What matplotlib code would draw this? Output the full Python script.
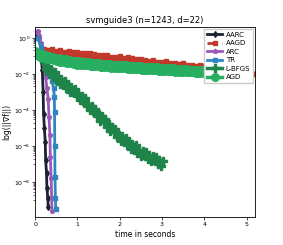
import matplotlib
matplotlib.use("Agg")
import matplotlib.pyplot as plt
from matplotlib.ticker import FixedLocator, NullFormatter
import numpy as np

# log10 of ||grad f||, against time in seconds
aarc_t = [0.04, 0.07, 0.10, 0.13, 0.15, 0.17, 0.19, 0.20, 0.22, 0.24, 0.25, 0.27, 0.28, 0.30, 0.31]
aarc_v = [0.05, 0.2, 0.0, -0.6, -1.2, -1.8, -3.0, -4.2, -5.0, -5.8, -6.8, -7.5, -8.3, -8.9, -9.4]

aagd_t = [0.20, 0.25, 0.30, 0.35, 0.40, 0.45, 0.50, 0.55, 0.60, 0.65,
          0.70, 0.75, 0.80, 0.85, 0.90, 0.95, 1.00, 1.05, 1.10, 1.15,
          1.20, 1.25, 1.30, 1.35, 1.40, 1.45, 1.50, 1.55, 1.60, 1.65,
          1.70, 1.75, 1.80, 1.85, 1.90, 1.95, 2.00, 2.05, 2.10, 2.15,
          2.20, 2.25, 2.30, 2.35, 2.40, 2.45, 2.50, 2.55, 2.60, 2.65,
          2.70, 2.75, 2.80, 2.85, 2.90, 2.95, 3.00, 3.05, 3.10, 3.15,
          3.20, 3.25, 3.30, 3.35, 3.40, 3.45, 3.50, 3.55, 3.60, 3.65,
          3.70, 3.75, 3.80, 3.85, 3.90, 3.95, 4.00, 4.05, 4.10, 4.15,
          4.20, 4.25, 4.30, 4.35, 4.40, 4.45, 4.50, 4.55, 4.60, 4.65,
          4.70, 4.75, 4.80, 4.85, 4.90, 4.95, 5.00, 5.05, 5.10, 5.15, 5.20]
aagd_v = [-0.62, -0.80, -0.68, -0.78, -0.60, -0.82, -0.72, -0.85, -0.70, -0.88,
          -0.76, -0.86, -0.74, -0.90, -0.80, -0.92, -0.78, -0.95, -0.84, -0.96,
          -0.86, -0.98, -0.82, -1.02, -0.92, -1.05, -0.95, -1.08, -0.98, -1.10,
          -0.96, -1.12, -1.04, -1.15, -1.06, -1.18, -1.02, -1.20, -1.12, -1.22,
          -1.08, -1.24, -1.14, -1.28, -1.18, -1.30, -1.20, -1.33, -1.22, -1.36,
          -1.26, -1.38, -1.22, -1.40, -1.32, -1.43, -1.35, -1.46, -1.30, -1.48,
          -1.38, -1.50, -1.42, -1.53, -1.45, -1.56, -1.40, -1.58, -1.50, -1.60,
          -1.52, -1.62, -1.55, -1.64, -1.50, -1.66, -1.58, -1.68, -1.60, -1.70,
          -1.62, -1.72, -1.66, -1.75, -1.68, -1.78, -1.70, -1.80, -1.74, -1.83,
          -1.76, -1.86, -1.80, -1.88, -1.84, -1.92, -1.86, -1.95, -1.90, -1.98, -2.00]

arc_t = [0.03, 0.06, 0.10, 0.14, 0.18, 0.22, 0.25, 0.28, 0.31, 0.33, 0.35, 0.36, 0.38, 0.40]
arc_v = [0.3, 0.4, 0.1, -0.3, -0.9, -1.5, -2.2, -2.8, -3.4, -4.4, -5.4, -6.6, -7.8, -9.6]

tr_t = [0.05, 0.15, 0.25, 0.33, 0.40, 0.44, 0.455, 0.46, 0.465, 0.47, 0.48, 0.49]
tr_v = [0.0, -0.5, -1.1, -1.7, -2.4, -2.8, -3.3, -4.1, -6.0, -7.7, -8.9, -9.5]

lbfgs_t = [0.22, 0.26, 0.30, 0.34, 0.38, 0.42, 0.46, 0.50, 0.54, 0.58,
           0.62, 0.66, 0.70, 0.74, 0.78, 0.82, 0.86, 0.90, 0.94, 0.98,
           1.02, 1.06, 1.10, 1.14, 1.18, 1.22, 1.26, 1.30, 1.34, 1.38,
           1.42, 1.46, 1.50, 1.54, 1.58, 1.62, 1.66, 1.70, 1.74, 1.78,
           1.82, 1.86, 1.90, 1.94, 1.98, 2.02, 2.06, 2.10, 2.14, 2.18,
           2.22, 2.26, 2.30, 2.34, 2.38, 2.42, 2.46, 2.50, 2.54, 2.58,
           2.62, 2.66, 2.70, 2.74, 2.78, 2.82, 2.86, 2.90, 2.94, 2.98, 3.02]
lbfgs_v = [-1.32, -1.75, -1.61, -1.98, -1.74, -2.03, -1.89, -2.32, -2.18, -2.55,
           -2.30, -2.57, -2.40, -2.81, -2.64, -2.99, -2.72, -2.99, -2.82, -3.23,
           -3.07, -3.45, -3.20, -3.50, -3.35, -3.79, -3.65, -4.02, -3.78, -4.07,
           -3.93, -4.36, -4.22, -4.60, -4.35, -4.65, -4.50, -4.94, -4.80, -5.17,
           -4.93, -5.22, -5.08, -5.52, -5.37, -5.73, -5.46, -5.73, -5.56, -5.97,
           -5.79, -6.14, -5.87, -6.14, -5.97, -6.37, -6.20, -6.55, -6.26, -6.51,
           -6.32, -6.70, -6.51, -6.84, -6.55, -6.80, -6.60, -6.99, -6.80, -7.13, -6.83]

agd_t = [0.00, 0.04, 0.08, 0.12, 0.16, 0.20, 0.24, 0.28, 0.32, 0.36,
         0.40, 0.44, 0.48, 0.52, 0.56, 0.60, 0.64, 0.68, 0.72, 0.76,
         0.80, 0.84, 0.88, 0.92, 0.96, 1.00, 1.04, 1.08, 1.12, 1.16,
         1.20, 1.24, 1.28, 1.32, 1.36, 1.40, 1.44, 1.48, 1.52, 1.56,
         1.60, 1.64, 1.68, 1.72, 1.76, 1.80, 1.84, 1.88, 1.92, 1.96,
         2.00, 2.04, 2.08, 2.12, 2.16, 2.20, 2.24, 2.28, 2.32, 2.36,
         2.40, 2.44, 2.48, 2.52, 2.56, 2.60, 2.64, 2.68, 2.72, 2.76,
         2.80, 2.84, 2.88, 2.92, 2.96, 3.00, 3.04, 3.08, 3.12, 3.16,
         3.20, 3.24, 3.28, 3.32, 3.36, 3.40, 3.44, 3.48, 3.52, 3.56,
         3.60, 3.64, 3.68, 3.72, 3.76, 3.80, 3.84, 3.88, 3.92, 3.96, 4.00]
agd_v = [-0.72, -0.98, -0.85, -1.05, -0.90, -1.10, -0.95, -1.16, -1.00, -1.20,
         -1.05, -1.25, -1.10, -1.30, -1.12, -1.34, -1.18, -1.36, -1.20, -1.40,
         -1.22, -1.42, -1.26, -1.45, -1.28, -1.48, -1.30, -1.50, -1.32, -1.52,
         -1.33, -1.52, -1.36, -1.55, -1.38, -1.58, -1.40, -1.57, -1.42, -1.60,
         -1.43, -1.62, -1.45, -1.63, -1.47, -1.65, -1.48, -1.66, -1.50, -1.68,
         -1.50, -1.68, -1.52, -1.70, -1.53, -1.71, -1.55, -1.72, -1.56, -1.73,
         -1.57, -1.74, -1.58, -1.76, -1.60, -1.77, -1.61, -1.78, -1.62, -1.80,
         -1.63, -1.80, -1.64, -1.82, -1.66, -1.83, -1.67, -1.84, -1.68, -1.85,
         -1.69, -1.86, -1.70, -1.87, -1.72, -1.88, -1.73, -1.89, -1.74, -1.90,
         -1.75, -1.91, -1.76, -1.92, -1.77, -1.93, -1.78, -1.94, -1.79, -1.95, -1.85]

series = [
    ("AARC", aarc_t, aarc_v, "#1b2232", "-", "d", 3.0, 2.0),
    ("AAGD", aagd_t, aagd_v, "#c0392b", "--", "s", 3.0, 2.0),
    ("ARC", arc_t, arc_v, "#9b59b6", "-", "p", 3.0, 2.0),
    ("TR", tr_t, tr_v, "#2e86c1", "-", "s", 3.0, 2.0),
    ("L-BFGS", lbfgs_t, lbfgs_v, "#1e8449", "-", "P", 5.5, 2.5),
    ("AGD", agd_t, agd_v, "#27ae60", "-", "o", 5.5, 2.5),
]

fig = plt.figure(figsize=(2.83, 2.45), dpi=100)
ax = fig.add_axes([0.124, 0.114, 0.777, 0.776])

for name, t, v, c, ls, mk, ms, lw in series:
    ax.plot(t, 10.0 ** np.array(v), color=c, linestyle=ls, marker=mk,
            markersize=ms, linewidth=lw, label=name)

ax.set_yscale("log")
ax.set_xlim(0, 5.2)
ax.set_ylim(1.15e-10, 4)
ax.set_xticks([0, 1, 2, 3, 4, 5])
ax.set_yticks([1e-8, 1e-6, 1e-4, 1e-2, 1e0])
minor = [k * 10.0 ** e for e in (-9, -7, -5, -3, -1) for k in range(1, 10)]
ax.yaxis.set_minor_locator(FixedLocator(minor))
ax.yaxis.set_minor_formatter(NullFormatter())
ax.tick_params(labelsize=4.5, length=2, width=0.5, pad=1.5)
ax.tick_params(which="minor", length=1.2, width=0.4)
for s in ax.spines.values():
    s.set_linewidth(0.6)

ax.set_title("svmguide3 (n=1243, d=22)", fontsize=6, pad=3)
ax.set_xlabel("time in seconds", fontsize=5.5, labelpad=2)
ax.set_ylabel("log(||\u2207f||)", fontsize=5.5, labelpad=2)
ax.legend(loc="upper right", fontsize=5, handlelength=2.2, borderpad=0.4,
          labelspacing=0.35, handletextpad=0.5, framealpha=1.0, edgecolor="#cccccc",
          fancybox=False, borderaxespad=0.3)

fig.savefig("out.png", dpi=100)
